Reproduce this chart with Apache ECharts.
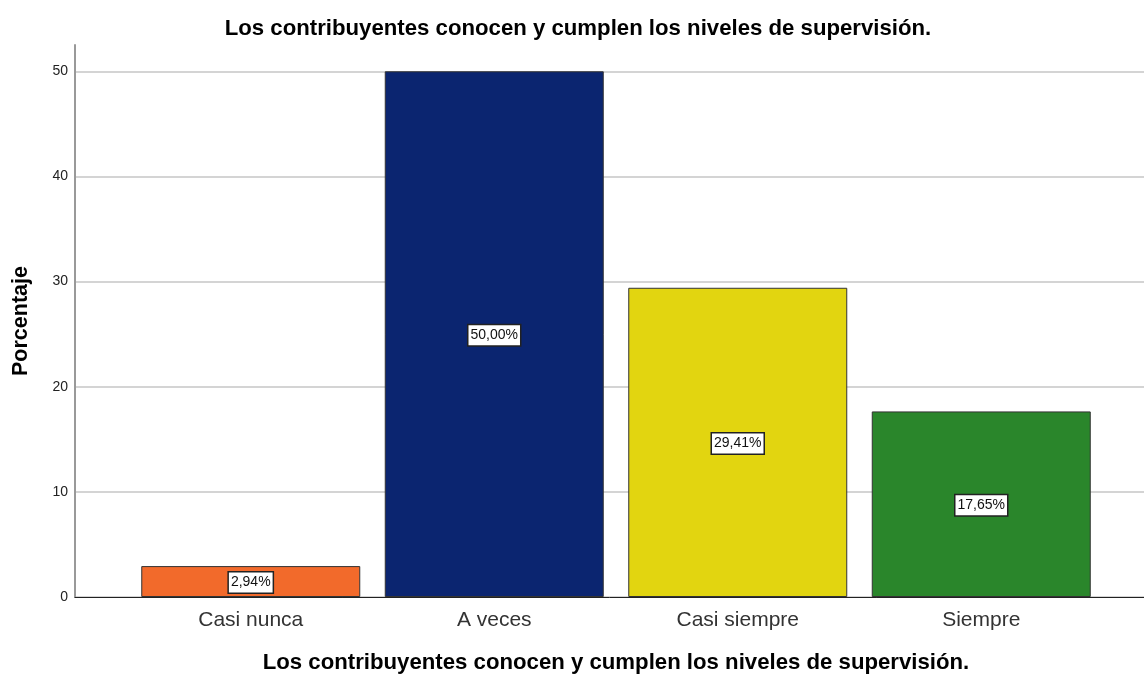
<!DOCTYPE html>
<html>
<head>
<meta charset="utf-8">
<style>
  html, body { margin: 0; padding: 0; background: #fff; }
  #chart { width: 1144px; height: 675px; }
</style>
<script src="https://cdn.jsdelivr.net/npm/echarts@6/dist/echarts.min.js"></script>
</head>
<body>
<div id="chart"></div>
<script>
// Porcentaje por categoría (SPSS bar chart)
var titleText = 'Los contribuyentes conocen y cumplen los niveles de supervisión.';
var categories = ['Casi nunca', 'A veces', 'Casi siempre', 'Siempre'];
var percentages = [2.94, 50.00, 29.41, 17.65];
var barColors = ['#F26A2B', '#0B2570', '#E2D510', '#2A862B'];
var yTicks = [0, 10, 20, 30, 40, 50];

(function() {
  var font = 'Liberation Sans, Arial, sans-serif';
  var yMax = 52.5;

  var chart = echarts.init(document.getElementById('chart'), null, { renderer: 'canvas' });
  chart.setOption({
    animation: false,
    backgroundColor: '#ffffff',
    title: {
      text: titleText,
      left: 573,
      textAlign: 'center',
      top: 13,
      textStyle: { fontFamily: font, fontSize: 22.2, fontWeight: 'bold', color: '#000' }
    },
    grid: [
      // frame: y axis, grid lines, baseline
      { left: 75, right: 0, top: 45, bottom: 78, outerBoundsMode: 'none' },
      // bars
      { left: 129, width: 974, top: 45, bottom: 78, outerBoundsMode: 'none' }
    ],
    xAxis: [
      {
        gridIndex: 0,
        type: 'value',
        min: 0,
        max: 1,
        axisLine: { show: true, onZero: false, lineStyle: { color: '#222', width: 1 } },
        axisTick: { show: false },
        axisLabel: { show: false },
        splitLine: { show: false }
      },
      {
        gridIndex: 1,
        type: 'category',
        data: categories,
        axisLine: { show: false },
        axisTick: { show: false },
        axisLabel: { margin: 13, fontFamily: font, fontSize: 21, color: '#333' },
        name: titleText,
        nameLocation: 'middle',
        nameGap: 55,
        nameTextStyle: { fontFamily: font, fontSize: 22.2, fontWeight: 'bold', color: '#000' }
      }
    ],
    yAxis: [
      {
        gridIndex: 0,
        type: 'value',
        min: yTicks[0],
        max: yMax,
        interval: 10,
        axisLine: { show: true, lineStyle: { color: '#999', width: 2 } },
        axisTick: { show: false },
        axisLabel: {
          margin: 7, fontFamily: font, fontSize: 14, color: '#222',
          formatter: function(v) { return yTicks.indexOf(v) >= 0 ? String(v) : ''; }
        },
        splitLine: { show: true, showMaxLine: false, lineStyle: { color: '#d4d4d4', width: 2 } },
        name: 'Porcentaje',
        nameLocation: 'middle',
        nameGap: 43,
        nameTextStyle: { fontFamily: font, fontSize: 21.5, fontWeight: 'bold', color: '#000' }
      },
      {
        gridIndex: 1,
        type: 'value',
        min: 0,
        max: yMax,
        show: false
      }
    ],
    series: [{
      type: 'bar',
      xAxisIndex: 1,
      yAxisIndex: 1,
      barWidth: 219,
      data: percentages.map(function(v, i) {
        return { value: v, itemStyle: { color: barColors[i] } };
      }),
      itemStyle: { borderColor: '#333', borderWidth: 1 },
      label: {
        show: true,
        position: 'inside',
        offset: [0, 1],
        formatter: function(p) { return p.value.toFixed(2).replace('.', ',') + '%'; },
        fontFamily: font,
        fontSize: 14,
        lineHeight: 15,
        color: '#111',
        backgroundColor: '#fff',
        borderColor: '#222',
        borderWidth: 1.5,
        padding: [3, 2, 2, 2]
      }
    }]
  });
  window.addEventListener('resize', function() { chart.resize(); });
})();
</script>
</body>
</html>
